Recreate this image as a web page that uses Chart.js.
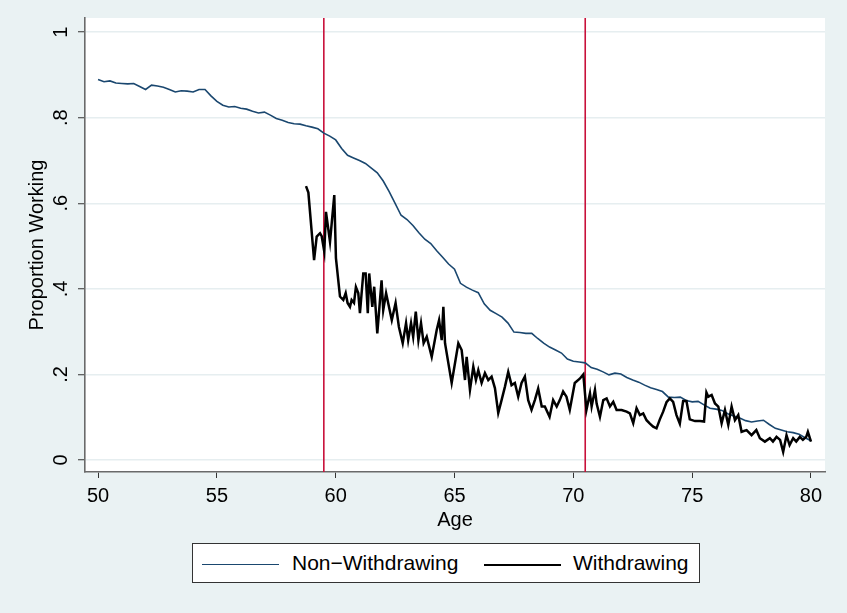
<!DOCTYPE html>
<html>
<head>
<meta charset="utf-8">
<script src="https://cdn.jsdelivr.net/npm/chart.js@4.4.1/dist/chart.umd.min.js"></script>
<style>
  html, body { margin: 0; padding: 0; background: #eaf2f3; }
  #wrap { position: relative; width: 847px; height: 613px; }
  #chart { position: absolute; left: 0; top: 0; }
  #legend {
    position: absolute; left: 192px; top: 543px; width: 506px; height: 38px;
    background: #fff; border: 1px solid #333;
    font-family: "Liberation Sans", Arial, sans-serif; font-size: 21px; color: #000;
  }
  .sw { position: absolute; top: 20px; }
  .lb { position: absolute; top: 7px; white-space: nowrap; }
</style>
</head>
<body>
<div id="wrap">
  <canvas id="chart" width="847" height="613"></canvas>
  <div id="legend">
    <div class="sw" style="left:9px;width:77px;border-top:1.6px solid #1a476f;"></div>
    <div class="lb" style="left:99px;">Non−Withdrawing</div>
    <div class="sw" style="left:291px;width:77px;border-top:2.5px solid #000;margin-top:-0.5px;"></div>
    <div class="lb" style="left:380px;">Withdrawing</div>
  </div>
</div>
<script>
// Non-withdrawing: proportion working, one value per quarter year from age 50 to 80
const nonWithdrawStart = 50;
const nonWithdrawStep = 0.25;
const nonWithdrawValues = [
  .889, .884, .886, .881, .880, .879, .880, .873, .866, .876,
  .874, .871, .866, .860, .863, .862, .860, .866, .866, .851,
  .838, .829, .825, .826, .822, .820, .815, .811, .813, .806,
  .798, .794, .789, .786, .785, .781, .778, .774, .764, .757,
  .748, .728, .712, .706, .700, .693, .682, .671, .652, .627,
  .600, .572, .562, .548, .531, .516, .506, .489, .474, .458,
  .446, .413, .404, .397, .391, .365, .350, .342, .334, .320,
  .299, .298, .296, .296, .284, .273, .264, .257, .250, .236,
  .231, .229, .227, .216, .212, .206, .199, .203, .201, .193,
  .187, .182, .175, .169, .165, .160, .147, .146, .147, .139,
  .136, .137, .129, .121, .119, .116, .108, .103, .098, .092,
  .089, .091, .093, .083, .074, .070, .066, .064, .060, .052,
  .045
];

// Withdrawing: ages and proportion working
const withdrawAges = [
  58.75, 58.85, 59.09, 59.20, 59.34, 59.41, 59.52, 59.59, 59.76, 59.94,
  60.01, 60.18, 60.32, 60.42, 60.50, 60.60, 60.67, 60.77, 60.85, 60.95,
  61.02, 61.16, 61.26, 61.35, 61.41, 61.54, 61.62, 61.75, 61.93, 62.00,
  62.12, 62.36, 62.52, 62.66, 62.82, 62.96, 63.05, 63.17, 63.26, 63.37,
  63.48, 63.59, 63.70, 63.83, 64.04, 64.25, 64.35, 64.46, 64.53, 64.60,
  64.88, 65.16, 65.30, 65.44, 65.51, 65.65, 65.79, 65.90, 66.00, 66.14,
  66.28, 66.42, 66.56, 66.70, 66.84, 66.98, 67.12, 67.26, 67.40, 67.54,
  67.68, 67.82, 67.96, 68.10, 68.24, 68.38, 68.52, 68.67, 68.80, 69.00,
  69.15, 69.30, 69.43, 69.57, 69.71, 69.85, 70.06, 70.27, 70.42, 70.55,
  70.70, 70.77, 70.91, 70.98, 71.12, 71.26, 71.40, 71.54, 71.68, 71.82,
  72.03, 72.24, 72.38, 72.52, 72.66, 72.80, 72.94, 73.08, 73.22, 73.36,
  73.50, 73.64, 73.78, 73.92, 74.06, 74.20, 74.34, 74.48, 74.62, 74.76,
  74.90, 75.12, 75.33, 75.50, 75.60, 75.68, 75.82, 75.96, 76.10, 76.24,
  76.38, 76.52, 76.66, 76.80, 76.94, 77.08, 77.29, 77.50, 77.70, 77.85,
  78.06, 78.27, 78.40, 78.55, 78.70, 78.83, 78.97, 79.10, 79.25, 79.38,
  79.53, 79.66, 79.80, 79.87, 80.00
];
const withdrawValues = [
  .640, .625, .467, .522, .530, .523, .487, .580, .510, .619,
  .472, .382, .374, .390, .367, .358, .374, .367, .404, .390,
  .343, .436, .436, .343, .436, .358, .405, .296, .420, .350,
  .390, .327, .367, .311, .273, .320, .280, .320, .288, .347,
  .280, .320, .273, .288, .241, .304, .327, .280, .358, .273,
  .180, .273, .257, .187, .241, .164, .218, .187, .210, .180,
  .203, .187, .195, .168, .110, .140, .171, .206, .175, .180,
  .148, .180, .195, .140, .117, .140, .167, .125, .125, .101,
  .140, .125, .140, .160, .148, .117, .180, .190, .200, .117,
  .156, .125, .164, .132, .101, .140, .144, .125, .136, .117,
  .117, .113, .109, .086, .121, .105, .109, .093, .085, .078,
  .074, .095, .113, .135, .144, .136, .105, .085, .138, .138,
  .095, .091, .091, .090, .158, .148, .152, .132, .125, .086,
  .117, .082, .125, .093, .105, .066, .070, .058, .070, .051,
  .043, .051, .043, .054, .047, .019, .058, .035, .051, .043,
  .054, .047, .054, .066, .043
];

// reference lines and axis ticks
const cutoffAges = [59.5, 70.5];
const xTickValues = [50, 55, 60, 65, 70, 75, 80];
const yTickValues = [0, 0.2, 0.4, 0.6, 0.8, 1];
const yTickLabels = ['0', '.2', '.4', '.6', '.8', '1'];

const X_MIN = 49.45, X_MAX = 80.59;
const Y_MIN = -0.028, Y_MAX = 1.033;
const FONT = '"Liberation Sans", Arial, sans-serif';

const nonWithdrawPts = nonWithdrawValues.map((v, i) => ({ x: nonWithdrawStart + i * nonWithdrawStep, y: v }));
const withdrawPts = withdrawValues.map((v, i) => ({ x: withdrawAges[i], y: v }));

const cutoffSets = cutoffAges.map(a => ({
  data: [{ x: a, y: Y_MIN }, { x: a, y: Y_MAX }],
  borderColor: '#c8103a',
  borderWidth: 1.6,
  pointRadius: 0,
  order: 3
}));

const plotBg = {
  id: 'plotBg',
  beforeDraw(chart) {
    const { ctx, chartArea: a } = chart;
    ctx.save();
    ctx.fillStyle = '#ffffff';
    ctx.fillRect(a.left, a.top, a.right - a.left, a.bottom - a.top);
    ctx.restore();
  }
};

// rotated y tick labels, as Stata draws them
const yLabels = {
  id: 'yLabels',
  afterDraw(chart) {
    const { ctx } = chart;
    const y = chart.scales.y;
    ctx.save();
    ctx.fillStyle = '#000';
    ctx.font = '20px ' + FONT;
    ctx.textAlign = 'center';
    ctx.textBaseline = 'alphabetic';
    yTickValues.forEach((v, i) => {
      ctx.save();
      ctx.translate(67, y.getPixelForValue(v));
      ctx.rotate(-Math.PI / 2);
      ctx.fillText(yTickLabels[i], 0, 0);
      ctx.restore();
    });
    ctx.restore();
  }
};

new Chart(document.getElementById('chart'), {
  type: 'line',
  data: {
    datasets: [
      { label: 'Non−Withdrawing', data: nonWithdrawPts, borderColor: '#1a476f', borderWidth: 1.6, pointRadius: 0, order: 2 },
      { label: 'Withdrawing', data: withdrawPts, borderColor: '#000000', borderWidth: 2.5, pointRadius: 0, order: 1 },
      ...cutoffSets
    ]
  },
  options: {
    responsive: false,
    animation: false,
    layout: { padding: { left: 0, right: 22, top: 18, bottom: 71 } },
    plugins: { legend: { display: false }, tooltip: { enabled: false } },
    elements: { line: { tension: 0 } },
    scales: {
      x: {
        type: 'linear', min: X_MIN, max: X_MAX,
        afterBuildTicks: s => { s.ticks = xTickValues.map(v => ({ value: v })); },
        afterFit: s => { s.height = 70; },
        border: { display: true, color: '#6a6a6a', width: 1.6 },
        grid: { drawOnChartArea: false, drawTicks: true, tickLength: 6, tickColor: '#333', tickWidth: 1 },
        ticks: { color: '#000', font: { family: FONT, size: 20 }, padding: 6, maxRotation: 0, autoSkip: false },
        title: { display: true, text: 'Age', color: '#000', font: { family: FONT, size: 20 }, padding: { top: 0, bottom: 10 } }
      },
      y: {
        type: 'linear', min: Y_MIN, max: Y_MAX,
        afterBuildTicks: s => { s.ticks = yTickValues.map(v => ({ value: v })); },
        afterFit: s => { s.width = 85; },
        border: { display: true, color: '#6a6a6a', width: 1.6 },
        grid: { color: '#e6eef0', lineWidth: 1.5, drawTicks: true, tickLength: 7, tickColor: '#333', tickWidth: 1 },
        ticks: { display: false },
        title: { display: true, text: 'Proportion Working', color: '#000', font: { family: FONT, size: 20 }, padding: { top: 25, bottom: 0 } }
      }
    }
  },
  plugins: [plotBg, yLabels]
});
</script>
</body>
</html>
